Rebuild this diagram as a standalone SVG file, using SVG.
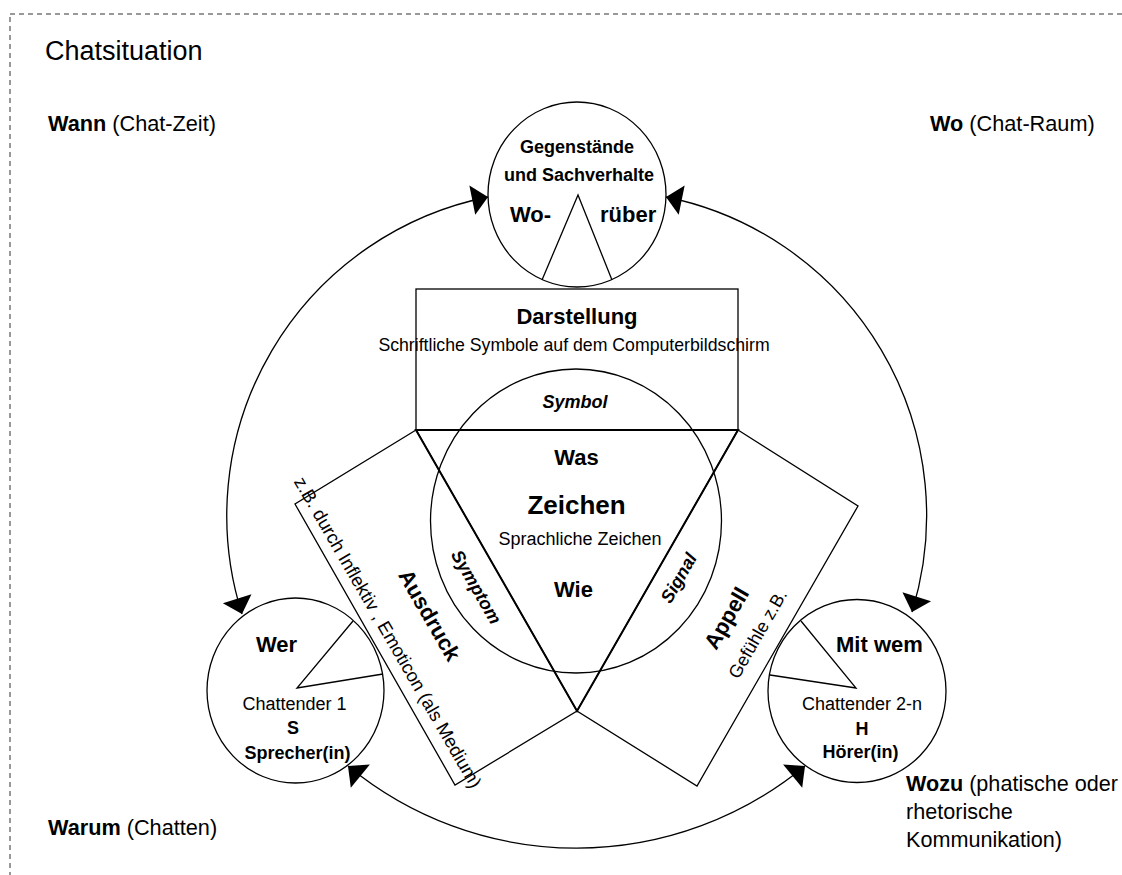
<svg xmlns="http://www.w3.org/2000/svg" width="1122" height="875" viewBox="0 0 1122 875">
<style>
text{font-family:"Liberation Sans",Arial,sans-serif;fill:#000}
.b{font-weight:bold}
.bi{font-weight:bold;font-style:italic}
.m{text-anchor:middle}
.shape{fill:none;stroke:#000;stroke-width:1.3}
.tri{fill:none;stroke:#000;stroke-width:2}
.arc{fill:none;stroke:#000;stroke-width:1.3;marker-start:url(#ah);marker-end:url(#ah)}
</style>
<defs>
<marker id="ah" markerUnits="userSpaceOnUse" markerWidth="17" markerHeight="31" refX="16" refY="15" orient="auto-start-reverse" overflow="visible">
<path d="M0,0 L16,15 L0,30 z" fill="#000"/>
</marker>
</defs>
<rect id="frame" x="10" y="14" width="1200" height="1000" fill="none" stroke="#333" stroke-width="1" stroke-dasharray="5,4"/>
<g id="labels">
<text x="45" y="60" font-size="27">Chatsituation</text>
<text x="48" y="131" font-size="21.7"><tspan class="b">Wann</tspan> (Chat-Zeit)</text>
<text x="930" y="131" font-size="21.7"><tspan class="b">Wo</tspan> (Chat-Raum)</text>
<text x="48" y="835" font-size="21.7"><tspan class="b">Warum</tspan> (Chatten)</text>
<text x="906" y="791" font-size="21.6"><tspan class="b">Wozu</tspan> (phatische oder</text>
<text x="906" y="819" font-size="21.6">rhetorische</text>
<text x="906" y="847" font-size="21.6">Kommunikation)</text>
</g>
<g id="connectors">
<path class="arc" d="M488,197 A325,325 0 0 0 242,614"/>
<path class="arc" d="M666,197 A325,325 0 0 1 912,612"/>
<path class="arc" d="M348,766 A359,359 0 0 0 805,766"/>
</g>
<g id="gegenstaende">
<ellipse class="shape" cx="577" cy="194.5" rx="89" ry="92.5"/>
<polyline class="shape" points="542,280 578,195 612,280"/>
<text class="b m" x="577" y="153" font-size="18">Gegenstände</text>
<text class="b m" x="579" y="181" font-size="18">und Sachverhalte</text>
<text class="b" x="510" y="222" font-size="22">Wo-</text>
<text class="b" x="600" y="222" font-size="22">rüber</text>
</g>
<g id="darstellung">
<rect class="shape" x="416" y="289" width="322" height="141"/>
<text class="b m" x="577" y="324" font-size="22">Darstellung</text>
<text class="m" x="574" y="351" font-size="17.7">Schriftliche Symbole auf dem Computerbildschirm</text>
</g>
<g id="ausdruck">
<polygon class="shape" points="416,430 295,504 455,785 577,711"/>
<text class="b m" font-size="22" transform="translate(423,619) rotate(60)">Ausdruck</text>
<text class="m" font-size="18.5" transform="translate(382.5,635.5) rotate(60)">z.B. durch Inflektiv , Emoticon (als Medium)</text>
</g>
<g id="appell">
<polygon class="shape" points="738,430 858,506 697,786 577,711"/>
<text class="b m" font-size="22" transform="translate(733,622) rotate(-60)">Appell</text>
<text class="m" font-size="18" transform="translate(763,637) rotate(-60)">Gefühle z.B.</text>
</g>
<g id="zeichen">
<ellipse class="shape" cx="576" cy="521" rx="145.5" ry="152"/>
<polygon class="tri" points="416,430 738,430 577,711"/>
<text class="bi m" x="575" y="408" font-size="18">Symbol</text>
<text class="b m" x="576.5" y="465" font-size="22">Was</text>
<text class="b m" x="576.5" y="514" font-size="26">Zeichen</text>
<text class="m" x="580" y="545" font-size="18">Sprachliche Zeichen</text>
<text class="b m" x="573.5" y="597" font-size="22">Wie</text>
<text class="bi m" font-size="18" transform="translate(471,590) rotate(60)">Symptom</text>
<text class="bi m" font-size="18" transform="translate(684,581) rotate(-60)">Signal</text>
</g>
<g id="sprecher">
<ellipse class="shape" cx="295.5" cy="690.5" rx="88.5" ry="92.5"/>
<polyline class="shape" points="353,621 297,688 383,674"/>
<text class="b" x="256" y="652" font-size="22">Wer</text>
<text class="m" x="294.5" y="710" font-size="18">Chattender 1</text>
<text class="b m" x="293" y="734" font-size="18">S</text>
<text class="b m" x="297.5" y="759" font-size="18">Sprecher(in)</text>
</g>
<g id="hoerer">
<ellipse class="shape" cx="857" cy="691" rx="89" ry="91.5"/>
<polyline class="shape" points="801,621 856,688 770,675"/>
<text class="b" x="836" y="652" font-size="22">Mit wem</text>
<text class="m" x="862" y="710" font-size="18">Chattender 2-n</text>
<text class="b m" x="862" y="735" font-size="18">H</text>
<text class="b m" x="860.5" y="758" font-size="18">Hörer(in)</text>
</g>
</svg>
